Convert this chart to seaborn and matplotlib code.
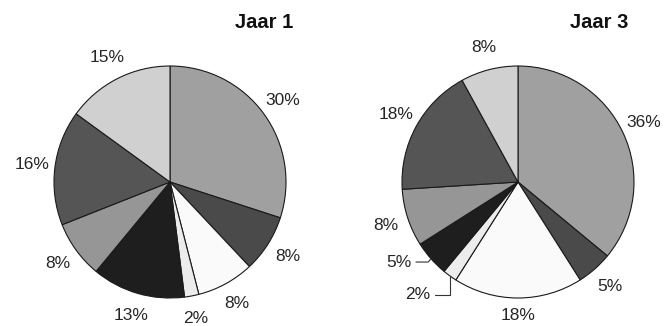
import matplotlib
matplotlib.use("Agg")
import matplotlib.pyplot as plt
import seaborn as sns
import numpy as np

# data
titles = ["Jaar 1", "Jaar 3"]
jaar1 = [30, 8, 8, 2, 13, 8, 16, 15]
jaar3 = [36, 5, 18, 2, 5, 8, 18, 8]
slice_colors = ["#a0a0a0", "#4a4a4a", "#fafafa", "#ececec",
                "#1e1e1e", "#969696", "#555555", "#d0d0d0"]

sns.set_theme(style="white")
plt.rcParams['font.family'] = ['Liberation Sans', 'DejaVu Sans']

W, H = 670, 326
fig = plt.figure(figsize=(W / 100, H / 100), dpi=100)
fig.patch.set_facecolor("white")

R = 116
centers = [(170, 182), (518, 182)]
title_right = [293, 628]


def draw_pie(cx, cy, values, title, tx):
    ax = fig.add_axes([(cx - R) / W, (H - cy - R) / H, 2 * R / W, 2 * R / H])
    wedges, _, autotexts = ax.pie(
        values, colors=slice_colors, startangle=90, counterclock=False,
        autopct='%.0f%%', pctdistance=1.2,
        wedgeprops=dict(edgecolor="#1a1a1a", linewidth=0.8),
        textprops=dict(fontsize=12.5, color="#262626"))
    ax.set_xlim(-1, 1)
    ax.set_ylim(-1, 1)
    ax.set_aspect('equal')
    for t in autotexts:
        t.set_clip_on(False)
    fig.text(tx / W, 1 - 22 / H, title, ha='right', va='center',
             fontsize=14.5, fontweight='bold', color="#111111")
    return ax, wedges, autotexts


draw_pie(*centers[0], jaar1, titles[0], title_right[0])
ax3, wedges3, texts3 = draw_pie(*centers[1], jaar3, titles[1], title_right[1])

# the bottom 18% label sits a little closer to the pie
x, y = texts3[2].get_position()
texts3[2].set_position((x * 1.15 / 1.2, y * 1.15 / 1.2))

# leader lines for the small slices in Jaar 3
leaders = {3: ((-0.76, -0.97), 'angle,angleA=0,angleB=90'),
           4: ((-0.92, -0.69), 'angle,angleA=0,angleB=50')}
for idx, (pos, style) in leaders.items():
    w = wedges3[idx]
    mid = np.deg2rad((w.theta1 + w.theta2) / 2)
    edge = (np.cos(mid), np.sin(mid))
    label = texts3[idx].get_text()
    texts3[idx].set_visible(False)
    ax3.annotate(label, xy=edge, xytext=pos, ha='right', va='center',
                 fontsize=12.5, color="#262626", annotation_clip=False,
                 arrowprops=dict(arrowstyle='-', color="#333333", lw=0.8,
                                 shrinkA=1, shrinkB=0, connectionstyle=style))

fig.savefig("out.png", dpi=100)
